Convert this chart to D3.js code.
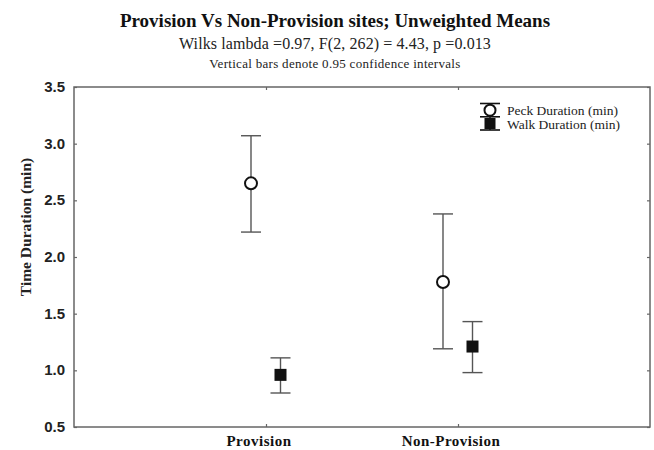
<!DOCTYPE html>
<html>
<head>
<meta charset="utf-8">
<script src="https://cdn.jsdelivr.net/npm/d3@7"></script>
<style>
  html, body { margin: 0; padding: 0; background: #fff; }
  svg { display: block; }
</style>
</head>
<body>
<svg id="chart" width="654" height="450"></svg>
<script>
// Sites compared
const categories = ["Provision", "Non-Provision"];

// Peck duration (min): means and 0.95 confidence limits
const peckMean = [2.65, 1.78];
const peckLow  = [2.22, 1.19];
const peckHigh = [3.07, 2.38];

// Walk duration (min): means and 0.95 confidence limits
const walkMean = [0.96, 1.21];
const walkLow  = [0.80, 0.98];
const walkHigh = [1.11, 1.43];

// Y axis ticks
const yTicks = [0.5, 1.0, 1.5, 2.0, 2.5, 3.0, 3.5];

const serif = "'Liberation Serif', 'Times New Roman', serif";
const sans = "'Liberation Sans', Arial, sans-serif";

const svg = d3.select("#chart");
const plotLeft = 74, plotRight = 650, plotTop = 87, plotBottom = 427;

const x = d3.scalePoint().domain(categories).range([plotLeft, plotRight]).padding(1);
const y = d3.scaleLinear().domain([0.5, 3.5]).range([plotBottom, plotTop]);

// Titles
svg.append("text").attr("x", 335).attr("y", 27)
  .attr("text-anchor", "middle").attr("font-family", serif)
  .attr("font-weight", "bold").attr("font-size", 19).attr("fill", "#111")
  .text("Provision Vs Non-Provision sites; Unweighted Means");
svg.append("text").attr("x", 335).attr("y", 49)
  .attr("text-anchor", "middle").attr("font-family", serif)
  .attr("font-size", 16).attr("letter-spacing", 0.1).attr("fill", "#222")
  .text("Wilks lambda =0.97, F(2, 262) = 4.43, p =0.013");
svg.append("text").attr("x", 335).attr("y", 68)
  .attr("text-anchor", "middle").attr("font-family", serif)
  .attr("font-size", 13).attr("letter-spacing", 0.3).attr("fill", "#222")
  .text("Vertical bars denote 0.95 confidence intervals");

// Frame
const frameColor = "#666";
svg.append("rect").attr("x", plotLeft).attr("y", plotTop)
  .attr("width", plotRight - plotLeft).attr("height", plotBottom - plotTop)
  .attr("fill", "none").attr("stroke", frameColor).attr("stroke-width", 1.5);

// Axes with inward ticks, labels only on left and bottom
const yLeft = svg.append("g").attr("transform", `translate(${plotLeft},0)`)
  .call(d3.axisRight(y).tickValues(yTicks).tickSize(3).tickFormat(""));
const yRight = svg.append("g").attr("transform", `translate(${plotRight},0)`)
  .call(d3.axisLeft(y).tickValues(yTicks).tickSize(3).tickFormat(""));
const xBottom = svg.append("g").attr("transform", `translate(0,${plotBottom})`)
  .call(d3.axisTop(x).tickSize(3).tickFormat(""));
const xTop = svg.append("g").attr("transform", `translate(0,${plotTop})`)
  .call(d3.axisBottom(x).tickSize(3).tickFormat(""));
[yLeft, yRight, xBottom, xTop].forEach(g => {
  g.select(".domain").remove();
  g.selectAll(".tick line").attr("stroke", frameColor).attr("stroke-width", 1.2);
});

// Y tick labels
svg.append("g").selectAll("text").data(yTicks).join("text")
  .attr("x", 65).attr("y", d => y(d) + 5)
  .attr("text-anchor", "end").attr("font-family", sans)
  .attr("font-weight", "bold").attr("font-size", 15).attr("fill", "#222")
  .text(d => d.toFixed(1));

// X category labels
svg.append("g").selectAll("text").data(categories).join("text")
  .attr("x", d => x(d) - 7).attr("y", 446)
  .attr("text-anchor", "middle").attr("font-family", serif)
  .attr("font-weight", "bold").attr("font-size", 15).attr("fill", "#111")
  .attr("letter-spacing", 0.5)
  .text(d => d);

// Y axis title
svg.append("text")
  .attr("transform", "translate(31,227) rotate(-90)")
  .attr("text-anchor", "middle").attr("font-family", serif)
  .attr("font-weight", "bold").attr("font-size", 15.5).attr("fill", "#222")
  .text("Time Duration (min)");

// Error bars and markers
const barColor = "#555";
const capHalf = 10;

function drawSeries(means, lows, highs, dx, shape) {
  const g = svg.append("g");
  const data = categories.map((c, i) => ({ c, m: means[i], lo: lows[i], hi: highs[i] }));
  const grp = g.selectAll("g").data(data).join("g")
    .attr("transform", d => `translate(${x(d.c) + dx},0)`);
  grp.append("line").attr("x1", 0).attr("x2", 0)
    .attr("y1", d => y(d.hi)).attr("y2", d => y(d.lo))
    .attr("stroke", barColor).attr("stroke-width", 1.4);
  grp.append("line").attr("x1", -capHalf).attr("x2", capHalf)
    .attr("y1", d => y(d.hi)).attr("y2", d => y(d.hi))
    .attr("stroke", barColor).attr("stroke-width", 1.4);
  grp.append("line").attr("x1", -capHalf).attr("x2", capHalf)
    .attr("y1", d => y(d.lo)).attr("y2", d => y(d.lo))
    .attr("stroke", barColor).attr("stroke-width", 1.4);
  if (shape === "circle") {
    grp.append("circle").attr("cx", 0).attr("cy", d => y(d.m)).attr("r", 6)
      .attr("fill", "#fff").attr("stroke", "#111").attr("stroke-width", 2);
  } else {
    grp.append("rect").attr("x", -6).attr("y", d => y(d.m) - 6)
      .attr("width", 12).attr("height", 12).attr("fill", "#111");
  }
}
drawSeries(peckMean, peckLow, peckHigh, -15, "circle");
drawSeries(walkMean, walkLow, walkHigh, 14.5, "square");

// Legend
const lg = svg.append("g").attr("transform", "translate(490,0)");
lg.append("line").attr("x1", 0).attr("x2", 0).attr("y1", 103.5).attr("y2", 130)
  .attr("stroke", "#111").attr("stroke-width", 1.4);
[103.5, 116.8, 130].forEach(yy => lg.append("line")
  .attr("x1", -capHalf).attr("x2", capHalf).attr("y1", yy).attr("y2", yy)
  .attr("stroke", "#111").attr("stroke-width", 1.6));
lg.append("circle").attr("cx", 0).attr("cy", 110.2).attr("r", 5.5)
  .attr("fill", "#fff").attr("stroke", "#111").attr("stroke-width", 2);
lg.append("rect").attr("x", -5.5).attr("y", 118).attr("width", 11).attr("height", 11)
  .attr("fill", "#111");
lg.append("text").attr("x", 17).attr("y", 114.5)
  .attr("font-family", serif).attr("font-size", 13.5).attr("fill", "#222")
  .text("Peck Duration (min)");
lg.append("text").attr("x", 17).attr("y", 129)
  .attr("font-family", serif).attr("font-size", 13.5).attr("fill", "#222")
  .text("Walk Duration (min)");
</script>
</body>
</html>
